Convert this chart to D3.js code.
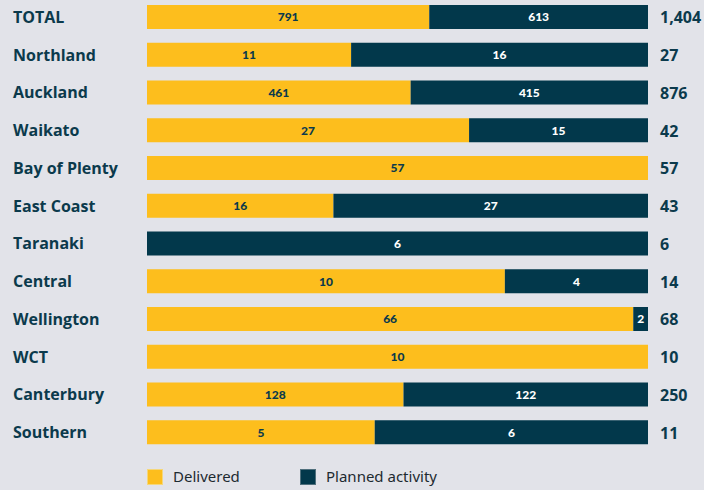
<!DOCTYPE html>
<html>
<head>
<meta charset="utf-8">
<script src="https://cdn.jsdelivr.net/npm/d3@7"></script>
<style>
  body { margin: 0; background: #e2e3e9; }
  svg { display: block; }
</style>
</head>
<body>
<div id="chart"></div>
<script>
const regions = ["TOTAL", "Northland", "Auckland", "Waikato", "Bay of Plenty", "East Coast",
  "Taranaki", "Central", "Wellington", "WCT", "Canterbury", "Southern"];
const delivered = [791, 11, 461, 27, 57, 16, 0, 10, 66, 10, 128, 5];
const planned = [613, 16, 415, 15, 0, 27, 6, 4, 2, 0, 122, 6];
const seriesNames = ["Delivered", "Planned activity"];

const W = 704, H = 490;
const barLeft = 147, barRight = 648;
const colors = { delivered: "#fdbe1d", planned: "#02384b" };
const ink = "#0b3a4c";

const data = regions.map((r, i) => ({
  region: r,
  delivered: delivered[i],
  planned: planned[i],
  total: delivered[i] + planned[i]
}));

const svg = d3.select("#chart").append("svg")
  .attr("width", W).attr("height", H);

svg.append("rect").attr("width", W).attr("height", H).attr("fill", "#e2e3e9");

// rows: step ~37.75px, bars 24px tall
const step = 37.75, barH = 24;
const y = d3.scaleBand()
  .domain(regions)
  .range([5, 5 + regions.length * step - (step - barH)])
  .paddingInner((step - barH) / step)
  .paddingOuter(0);

const x = d3.scaleLinear().domain([0, 1]).range([barLeft, barRight]);

const row = svg.selectAll("g.row")
  .data(data)
  .join("g")
  .attr("class", "row")
  .attr("transform", d => `translate(0,${y(d.region)})`);

const bh = y.bandwidth();

// delivered part
row.append("rect")
  .attr("x", x(0))
  .attr("y", 0)
  .attr("height", bh)
  .attr("width", d => x(d.delivered / d.total) - x(0))
  .attr("fill", colors.delivered);

// planned part
row.append("rect")
  .attr("x", d => x(d.delivered / d.total))
  .attr("y", 0)
  .attr("height", bh)
  .attr("width", d => x(1) - x(d.delivered / d.total))
  .attr("fill", colors.planned);

const numFont = "Lato, 'Open Sans', sans-serif";
const labFont = "'Open Sans', sans-serif";

row.filter(d => d.delivered > 0).append("text")
  .attr("x", d => (x(0) + x(d.delivered / d.total)) / 2)
  .attr("y", bh / 2)
  .attr("dy", "0.36em")
  .attr("text-anchor", "middle")
  .style("font-family", numFont)
  .style("font-weight", "900")
  .style("font-size", "12px")
  .style("fill", ink)
  .text(d => d3.format(",")(d.delivered));

row.filter(d => d.planned > 0).append("text")
  .attr("x", d => (x(d.delivered / d.total) + x(1)) / 2)
  .attr("y", bh / 2)
  .attr("dy", "0.36em")
  .attr("text-anchor", "middle")
  .style("font-family", numFont)
  .style("font-weight", "900")
  .style("font-size", "12px")
  .style("fill", "#ffffff")
  .text(d => d3.format(",")(d.planned));

// region labels
row.append("text")
  .attr("x", 13)
  .attr("y", bh / 2)
  .attr("dy", "0.36em")
  .style("font-family", labFont)
  .style("font-weight", "700")
  .style("font-size", "16px")
  .style("fill", ink)
  .text(d => d.region);

// totals
row.append("text")
  .attr("x", 660)
  .attr("y", bh / 2)
  .attr("dy", "0.4em")
  .style("font-family", labFont)
  .style("font-weight", "700")
  .style("font-size", "16px")
  .style("fill", ink)
  .text(d => d3.format(",")(d.total));

// legend
const legend = svg.append("g").attr("transform", "translate(0,469)");
const legX = [147, 300];
const legCol = [colors.delivered, colors.planned];
seriesNames.forEach((name, i) => {
  legend.append("rect")
    .attr("x", legX[i] + 0.5).attr("y", 0.5)
    .attr("width", 15).attr("height", 15)
    .attr("fill", legCol[i])
    .attr("stroke", i === 0 ? "#f5d77a" : "#4f6f7c")
    .attr("stroke-width", 1);
  legend.append("text")
    .attr("x", legX[i] + 26)
    .attr("y", 8)
    .attr("dy", "0.36em")
    .style("font-family", "'Noto Sans', 'Open Sans', sans-serif")
    .style("font-size", "15px")
    .style("fill", "#1d2a30")
    .text(name);
});
</script>
</body>
</html>
